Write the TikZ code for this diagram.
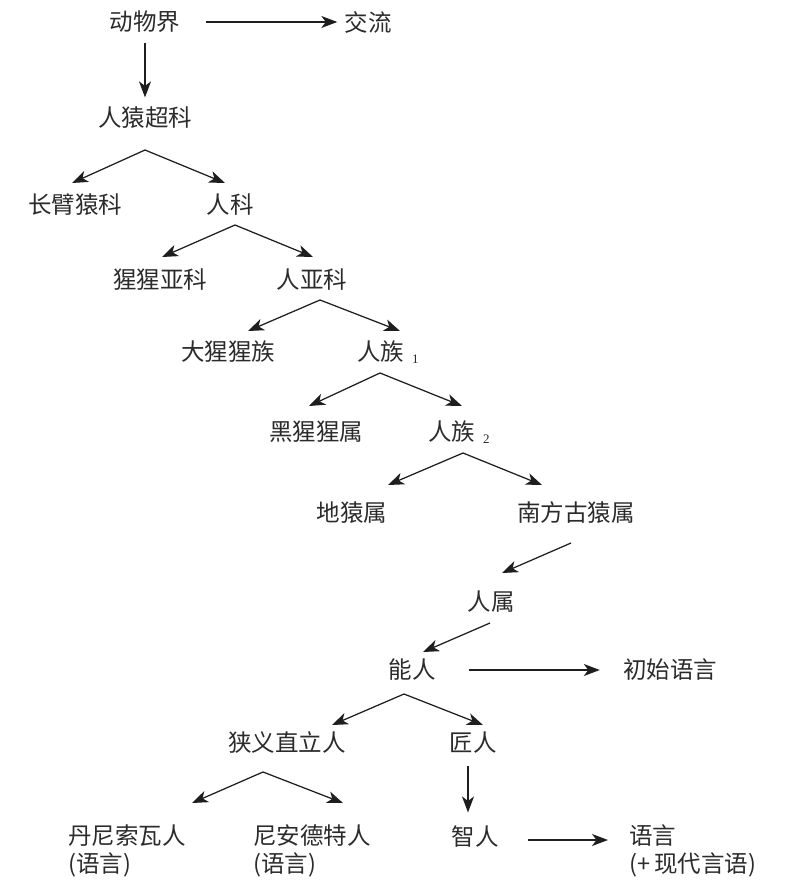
\documentclass[tikz,border=0pt]{standalone}
\usepackage{fontspec}
\setmainfont{Noto Sans CJK SC}
\newfontfamily\subf{Liberation Serif}
\usetikzlibrary{arrows.meta}
\definecolor{inkc}{HTML}{2B2B2B}
\definecolor{linec}{HTML}{1E1E1E}
\begin{document}
\begin{tikzpicture}[x=1pt,y=-1pt,
  lab/.style={inner sep=0pt, text=inkc, font=\fontsize{23.5}{28}\selectfont},
  labtwo/.style={lab, anchor=west, align=left},
  arr/.style={draw=linec, line width=1.25pt, -{Stealth[length=16pt,width=12pt,inset=4.5pt]}}]
\useasboundingbox (0,0) rectangle (796,896);
% nodes
\node[lab] (dwj) at (145,22) {动物界};
\node[lab] (jl) at (368,22) {交流};
\node[lab] (ryck) at (145,118) {人猿超科};
\node[lab] (cbyk) at (75,205) {长臂猿科};
\node[lab] (rk) at (230,205) {人科};
\node[lab] (xxyk) at (160,280) {猩猩亚科};
\node[lab] (ryk) at (312,280) {人亚科};
\node[lab] (dxxz) at (228,352) {大猩猩族};
\node[lab, anchor=west] (rzone) at (357,352) {人族\kern8pt\raisebox{-2.5pt}{\subf\fontsize{13}{14}\selectfont 1}};
\node[lab] (hxxs) at (316,432) {黑猩猩属};
\node[lab, anchor=west] (rztwo) at (428,432) {人族\kern8pt\raisebox{-2.5pt}{\subf\fontsize{13}{14}\selectfont 2}};
\node[lab] (dys) at (352,513) {地猿属};
\node[lab] (nfgys) at (576,513) {南方古猿属};
\node[lab] (rs) at (491,602) {人属};
\node[lab] (nr) at (412,670) {能人};
\node[lab] (csyy) at (670,670) {初始语言};
\node[lab] (xyzlr) at (287,743) {狭义直立人};
\node[lab] (jr) at (473,743) {匠人};
\node[labtwo] (dnswr) at (68,851) {丹尼索瓦人\\(语言)};
\node[labtwo] (nadtr) at (253,851) {尼安德特人\\(语言)};
\node[lab] (zr) at (475,837) {智人};
\node[labtwo] (yy) at (629,851) {语言\\(+\,现代言语)};
% fork coordinates
\coordinate (apA) at (145,150); \coordinate (tAa) at (72,183); \coordinate (tAb) at (225,183);
\coordinate (apB) at (235,225); \coordinate (tBa) at (162,257); \coordinate (tBb) at (313,257);
\coordinate (apC) at (320,300); \coordinate (tCa) at (248,331); \coordinate (tCb) at (400,331);
\coordinate (apD) at (380,373); \coordinate (tDa) at (309,406); \coordinate (tDb) at (462,406);
\coordinate (apE) at (463,453); \coordinate (tEa) at (388,485); \coordinate (tEb) at (542,485);
\coordinate (apF) at (404,694); \coordinate (tFa) at (332,725); \coordinate (tFb) at (483,725);
\coordinate (apG) at (263,772); \coordinate (tGa) at (192,803); \coordinate (tGb) at (343,803);
\coordinate (sAs) at (571,543); \coordinate (sAt) at (502,573);
\coordinate (sBs) at (490,623); \coordinate (sBt) at (423,652);
\coordinate (yyt) at (608,840);
% connectors
\draw[arr, shorten <=26pt, shorten >=7pt] (dwj.east) -- (jl.west);
\draw[arr, shorten <=9.5pt, shorten >=9.5pt] (dwj.south) -- (ryck.north);
\draw[arr] (apA) -- (tAa); \draw[arr] (apA) -- (tAb);
\draw[arr] (apB) -- (tBa); \draw[arr] (apB) -- (tBb);
\draw[arr] (apC) -- (tCa); \draw[arr] (apC) -- (tCb);
\draw[arr] (apD) -- (tDa); \draw[arr] (apD) -- (tDb);
\draw[arr] (apE) -- (tEa); \draw[arr] (apE) -- (tEb);
\draw[arr] (sAs) -- (sAt);
\draw[arr] (sBs) -- (sBt);
\draw[arr, shorten <=33pt, shorten >=23pt] (nr.east) -- (csyy.west);
\draw[arr] (apF) -- (tFa); \draw[arr] (apF) -- (tFb);
\draw[arr] (apG) -- (tGa); \draw[arr] (apG) -- (tGb);
\draw[arr, shorten <=12.5pt, shorten >=13.5pt] ([xshift=-5pt]jr.south) -- ([xshift=-7pt]zr.north);
\draw[arr, shorten <=29pt] ([yshift=-3pt]zr.east) -- (yyt);
\end{tikzpicture}
\end{document}
